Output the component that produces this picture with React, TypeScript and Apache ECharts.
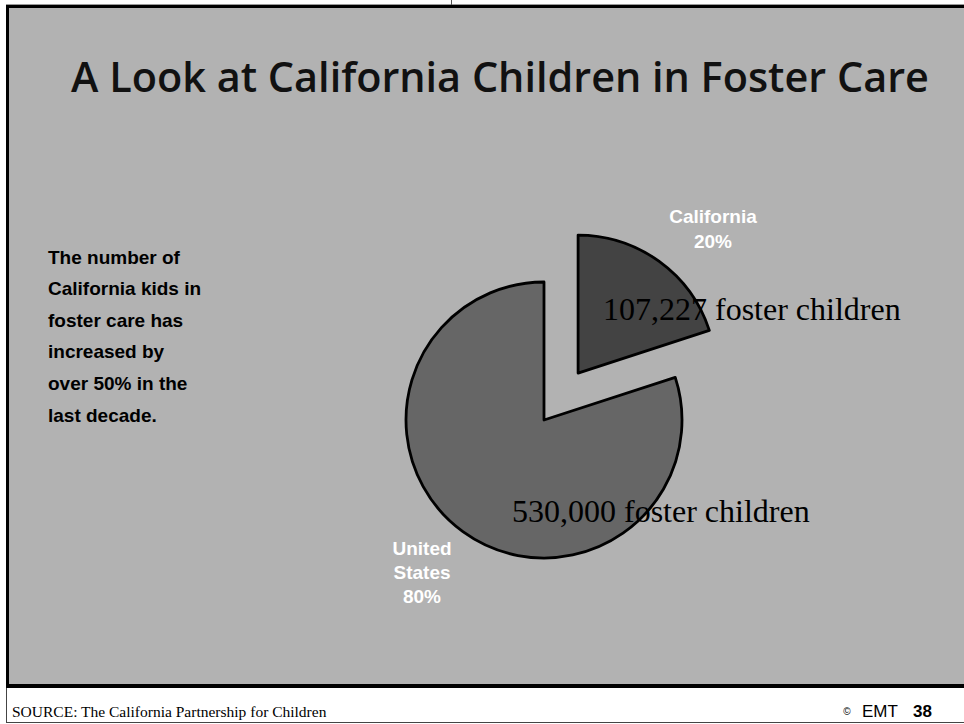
import React, { useEffect, useRef } from "react";
import * as echarts from "echarts";

const sliceNames = ["California", "United States"];
const sliceShares = [20, 80];
const sliceColors = ["#434343", "#666666"];
const childCounts = ["107,227 foster children", "530,000 foster children"];
const noteLines = [
  "The number of",
  "California kids in",
  "foster care has",
  "increased by",
  "over 50% in the",
  "last decade.",
];
const titleText = "A Look at California Children in Foster Care";
const sourceText = "SOURCE: The California Partnership for Children";
const pageNumber = "38";

export default function App() {
  const ref = useRef<HTMLDivElement>(null);
  useEffect(() => {
    if (!ref.current) return;
    const chart = echarts.init(ref.current, undefined, { renderer: "svg" });
    const total = sliceShares.reduce((a, b) => a + b, 0);
    const pct = sliceShares.map((v) => Math.round((v / total) * 100) + "%");

    const graphics: any[] = [
      { type: "rect", shape: { x: 0, y: 0, width: 964, height: 724 }, style: { fill: "#ffffff" }, z: -10 },
      { type: "line", shape: { x1: 6, y1: 4.5, x2: 964, y2: 4.5 }, style: { stroke: "#9a9a9a", lineWidth: 1 }, z: -9 },
      { type: "line", shape: { x1: 451.5, y1: 0, x2: 451.5, y2: 5 }, style: { stroke: "#555", lineWidth: 1 }, z: -9 },
      { type: "rect", shape: { x: 6, y: 5, width: 958, height: 683 }, style: { fill: "#000000" }, z: -9 },
      { type: "rect", shape: { x: 9, y: 8, width: 955, height: 676 }, style: { fill: "#b2b2b2" }, z: -8 },
      { type: "line", shape: { x1: 6.5, y1: 688, x2: 6.5, y2: 722 }, style: { stroke: "#444", lineWidth: 1 }, z: -8 },
      { type: "line", shape: { x1: 6, y1: 722.5, x2: 964, y2: 722.5 }, style: { stroke: "#444", lineWidth: 1 }, z: -8 },
      {
        type: "text",
        x: 500,
        y: 75,
        scaleX: 0.986,
        style: {
          text: titleText,
          fill: "#111111",
          fontSize: 42,
          fontWeight: 600,
          fontFamily: "Open Sans",
          textAlign: "center",
          textVerticalAlign: "middle",
        },
      },
      ...noteLines.map((t, i) => ({
        type: "text",
        x: 48,
        y: 257 + i * 31.6,
        style: {
          text: t,
          fill: "#000",
          fontSize: 19,
          fontWeight: "bold",
          fontFamily: "Liberation Sans",
          textAlign: "left",
          textVerticalAlign: "middle",
        },
      })),
      {
        type: "text",
        x: 713,
        y: 229,
        style: {
          text: sliceNames[0] + "\n" + pct[0],
          fill: "#ffffff",
          fontSize: 19,
          lineHeight: 25,
          fontWeight: "bold",
          fontFamily: "Liberation Sans",
          textAlign: "center",
          textVerticalAlign: "middle",
        },
      },
      {
        type: "text",
        x: 422,
        y: 572,
        style: {
          text: sliceNames[1].replace(" ", "\n") + "\n" + pct[1],
          fill: "#ffffff",
          fontSize: 19,
          lineHeight: 24,
          fontWeight: "bold",
          fontFamily: "Liberation Sans",
          textAlign: "center",
          textVerticalAlign: "middle",
        },
      },
      {
        type: "text",
        x: 603,
        y: 309,
        z: 10,
        style: {
          text: childCounts[0],
          fill: "#000",
          fontSize: 32,
          fontFamily: "Liberation Serif",
          textAlign: "left",
          textVerticalAlign: "middle",
        },
      },
      {
        type: "text",
        x: 512,
        y: 511,
        z: 10,
        style: {
          text: childCounts[1],
          fill: "#000",
          fontSize: 32,
          fontFamily: "Liberation Serif",
          textAlign: "left",
          textVerticalAlign: "middle",
        },
      },
      {
        type: "text",
        x: 12,
        y: 711,
        style: {
          text: sourceText,
          fill: "#000",
          fontSize: 15.5,
          fontFamily: "Liberation Serif",
          textAlign: "left",
          textVerticalAlign: "middle",
        },
      },
      {
        type: "text",
        x: 847,
        y: 711,
        style: { text: "©", fill: "#000", fontSize: 10, fontFamily: "Liberation Sans", textAlign: "center", textVerticalAlign: "middle" },
      },
      {
        type: "text",
        x: 862,
        y: 711,
        style: { text: "EMT", fill: "#000", fontSize: 17, fontFamily: "Liberation Sans", textAlign: "left", textVerticalAlign: "middle" },
      },
      {
        type: "text",
        x: 913,
        y: 711,
        style: { text: pageNumber, fill: "#000", fontSize: 17, fontWeight: "bold", fontFamily: "Liberation Sans", textAlign: "left", textVerticalAlign: "middle" },
      },
    ];

    chart.setOption({
      animation: false,
      graphic: { elements: graphics },
      series: [
        {
          type: "pie",
          center: [544, 420],
          radius: 138,
          startAngle: 90,
          clockwise: true,
          selectedMode: "single",
          selectedOffset: 58,
          silent: true,
          label: { show: false },
          labelLine: { show: false },
          emphasis: { disabled: true },
          itemStyle: { borderColor: "#000", borderWidth: 2.8 },
          data: sliceNames.map((n, i) => ({
            name: n,
            value: sliceShares[i],
            selected: i === 0,
            itemStyle: { color: sliceColors[i] },
          })),
          z: 5,
        },
      ],
    });
    return () => chart.dispose();
  }, []);
  return <div ref={ref} style={{ position: "absolute", left: 0, top: 0, width: 964, height: 724 }} />;
}
